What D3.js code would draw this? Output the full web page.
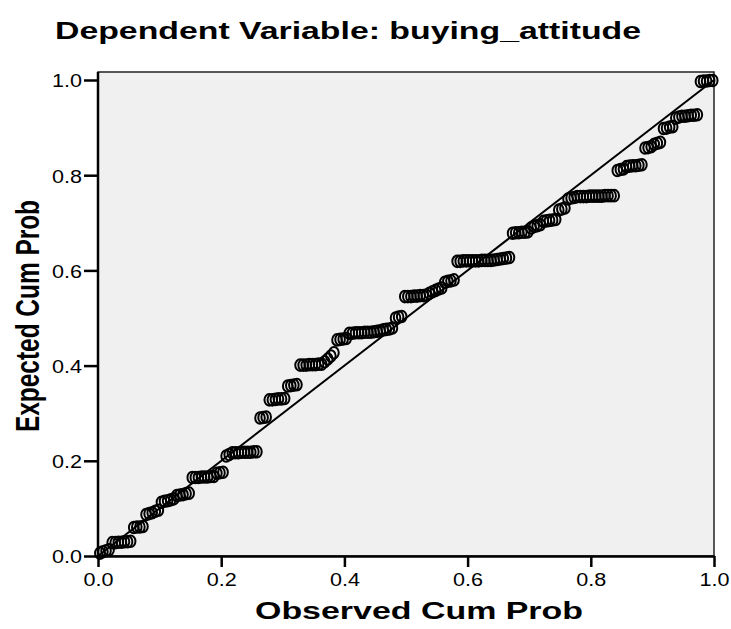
<!DOCTYPE html>
<html>
<head>
<meta charset="utf-8">
<script src="https://cdn.jsdelivr.net/npm/d3@7"></script>
<style>
  body { margin: 0; background: #fff; }
  text { font-family: Arial, "Liberation Sans", sans-serif; fill: #000; }
</style>
</head>
<body>
<svg id="chart" width="731" height="629"></svg>
<script>
var titleText = "Dependent Variable: buying_attitude";
var xTitle = "Observed Cum Prob";
var yTitle = "Expected Cum Prob";
var tickValues = [0, 0.2, 0.4, 0.6, 0.8, 1.0];

// observed cumulative probability (x) of each case
var observed = [
	0.003, 0.008, 0.013, 0.018,
	0.023, 0.028, 0.033, 0.038, 0.043, 0.048, 0.053,
	0.058, 0.063, 0.068, 0.073,
	0.078, 0.083, 0.088, 0.093, 0.098,
	0.103, 0.108, 0.113, 0.118, 0.123,
	0.128, 0.133, 0.138, 0.143, 0.148,
	0.153, 0.158, 0.163, 0.168, 0.173, 0.178, 0.183, 0.188,
	0.193, 0.198, 0.203,
	0.208, 0.213,
	0.218, 0.223, 0.228, 0.233, 0.238, 0.243, 0.248, 0.253, 0.258,
	0.263, 0.268, 0.273,
	0.278, 0.283, 0.288, 0.293, 0.298, 0.303,
	0.308, 0.313, 0.318, 0.323,
	0.328, 0.333, 0.338, 0.343, 0.348, 0.353, 0.358, 0.363,
	0.368, 0.373, 0.378, 0.383,
	0.388, 0.393, 0.398, 0.403,
	0.408, 0.413, 0.418, 0.423, 0.428, 0.433, 0.438, 0.443, 0.448, 0.453, 0.458, 0.463, 0.468, 0.473, 0.478,
	0.483, 0.488, 0.493,
	0.498, 0.503, 0.508, 0.513, 0.518, 0.523, 0.528, 0.533,
	0.538, 0.543, 0.548, 0.553, 0.558,
	0.563, 0.568, 0.573, 0.578,
	0.583, 0.588, 0.593, 0.598, 0.603, 0.608, 0.613, 0.618, 0.623, 0.628, 0.633, 0.638, 0.643, 0.648, 0.653, 0.658, 0.663, 0.668,
	0.673, 0.678, 0.683, 0.688, 0.693, 0.698,
	0.703, 0.708, 0.713, 0.718,
	0.723, 0.728, 0.733, 0.738, 0.743,
	0.748, 0.753, 0.758,
	0.763, 0.768, 0.773,
	0.778, 0.783, 0.788, 0.793, 0.798, 0.803, 0.808, 0.813, 0.818, 0.823, 0.828, 0.833, 0.838,
	0.843, 0.848, 0.853,
	0.858, 0.863, 0.868, 0.873, 0.878, 0.883,
	0.888, 0.893, 0.898,
	0.903, 0.908, 0.913,
	0.918, 0.923, 0.928, 0.933,
	0.938, 0.943,
	0.948, 0.953, 0.958, 0.963, 0.968, 0.973,
	0.978, 0.983, 0.988, 0.993, 0.998
];

// expected cumulative probability (y) of each case
var expected = [
	0.006, 0.009, 0.011, 0.013,
	0.028, 0.028, 0.029, 0.029, 0.030, 0.030, 0.031,
	0.060, 0.061, 0.061, 0.062,
	0.087, 0.089, 0.091, 0.094, 0.096,
	0.113, 0.115, 0.116, 0.118, 0.120,
	0.127, 0.128, 0.129, 0.131, 0.132,
	0.165, 0.165, 0.165, 0.166, 0.166, 0.166, 0.167, 0.167,
	0.174, 0.175, 0.176,
	0.210, 0.213,
	0.217, 0.217, 0.217, 0.218, 0.218, 0.218, 0.218, 0.219, 0.219,
	0.290, 0.291, 0.292,
	0.328, 0.328, 0.329, 0.330, 0.330, 0.331,
	0.357, 0.358, 0.359, 0.360,
	0.401, 0.401, 0.401, 0.402, 0.402, 0.402, 0.403, 0.403,
	0.408, 0.414, 0.420, 0.427,
	0.454, 0.455, 0.456, 0.457,
	0.468, 0.468, 0.469, 0.469, 0.469, 0.470, 0.470, 0.470, 0.471, 0.472, 0.473, 0.475, 0.476, 0.477, 0.479,
	0.500, 0.502, 0.503,
	0.545, 0.545, 0.545, 0.546, 0.546, 0.547, 0.547, 0.548,
	0.552, 0.555, 0.558, 0.561, 0.563,
	0.575, 0.577, 0.578, 0.580,
	0.619, 0.619, 0.620, 0.620, 0.620, 0.620, 0.620, 0.620, 0.621, 0.621, 0.621, 0.621, 0.622, 0.623, 0.624, 0.625, 0.626, 0.627,
	0.678, 0.679, 0.679, 0.680, 0.680, 0.681,
	0.689, 0.692, 0.694, 0.696,
	0.703, 0.704, 0.705, 0.706, 0.707,
	0.727, 0.729, 0.731,
	0.750, 0.752, 0.753,
	0.755, 0.755, 0.755, 0.755, 0.756, 0.756, 0.756, 0.756, 0.756, 0.757, 0.757, 0.757, 0.757,
	0.810, 0.812, 0.813,
	0.818, 0.819, 0.820, 0.820, 0.821, 0.822,
	0.857, 0.858, 0.860,
	0.865, 0.867, 0.869,
	0.898, 0.899, 0.901, 0.902,
	0.920, 0.922,
	0.924, 0.924, 0.925, 0.926, 0.926, 0.927,
	0.997, 0.998, 0.998, 0.999, 0.999
];

var drawChart = function(){
	var svg = d3.select("#chart");
	var x0 = 98, x1 = 714, y0 = 556, y1 = 80;

	var x_scale = d3.scaleLinear().domain([0, 1]).range([x0, x1]);
	var y_scale = d3.scaleLinear().domain([0, 1]).range([y0, y1]);

	// Plot background
	svg.append("rect")
		.attr("x", x0).attr("y", y1 - 8)
		.attr("width", x1 - x0).attr("height", y0 - y1 + 8)
		.attr("fill", "#f0f0f0")
		.attr("stroke", "#222")
		.attr("stroke-width", 1.5);

	// Axes
	var xAxis = svg.append("g")
		.attr("transform", "translate(0," + y0 + ")")
		.call(d3.axisBottom(x_scale).tickValues(tickValues).tickFormat(d3.format(".1f"))
			.tickSizeInner(11).tickSizeOuter(0).tickPadding(5));
	var yAxis = svg.append("g")
		.attr("transform", "translate(" + x0 + ",0)")
		.call(d3.axisLeft(y_scale).tickValues(tickValues).tickFormat(d3.format(".1f"))
			.tickSizeInner(14).tickSizeOuter(0).tickPadding(2));
	yAxis.select(".domain").attr("d", "M0," + (y1 - 8) + "V" + y0);

	[xAxis, yAxis].forEach(function(g){
		g.select(".domain").attr("stroke", "#000").attr("stroke-width", 2.5);
		g.selectAll(".tick line").attr("stroke", "#000").attr("stroke-width", 2.5);
		g.selectAll(".tick text")
			.attr("fill", "#111")
			.style("font-size", "18px")
			.attr("textLength", 30)
			.attr("lengthAdjust", "spacingAndGlyphs");
	});
	xAxis.selectAll(".tick text").attr("dy", "0.8em");
	yAxis.selectAll(".tick text").attr("dy", "0.38em");

	// Reference line
	svg.append("path")
		.attr("d", "M " + x_scale(0) + " " + y_scale(0) + " L " + x_scale(1) + " " + y_scale(1))
		.attr("stroke", "black")
		.attr("stroke-width", 2);

	// Points
	svg.append("g")
		.selectAll("ellipse")
		.data(observed.map(function(v, i){ return [v, expected[i]]; }))
		.enter()
			.append("ellipse")
			.attr("cx", function(d){ return x_scale(d[0]); })
			.attr("cy", function(d){ return y_scale(d[1]); })
			.attr("rx", 4.8)
			.attr("ry", 5.8)
			.attr("fill", "none")
			.attr("stroke", "black")
			.attr("stroke-width", 2);

	// Titles
	svg.append("text")
		.attr("x", 55).attr("y", 39)
		.style("font-size", "23px").style("font-weight", "bold")
		.attr("textLength", 586).attr("lengthAdjust", "spacingAndGlyphs")
		.text(titleText);

	svg.append("text")
		.attr("x", 255).attr("y", 619)
		.style("font-size", "23px").style("font-weight", "bold")
		.attr("textLength", 328).attr("lengthAdjust", "spacingAndGlyphs")
		.text(xTitle);

	svg.append("text")
		.attr("transform", "translate(39,432) scale(1.5,1) rotate(-90)")
		.style("font-size", "22px").style("font-weight", "bold")
		.attr("textLength", 232).attr("lengthAdjust", "spacingAndGlyphs")
		.text(yTitle);
};

drawChart();
</script>
</body>
</html>
